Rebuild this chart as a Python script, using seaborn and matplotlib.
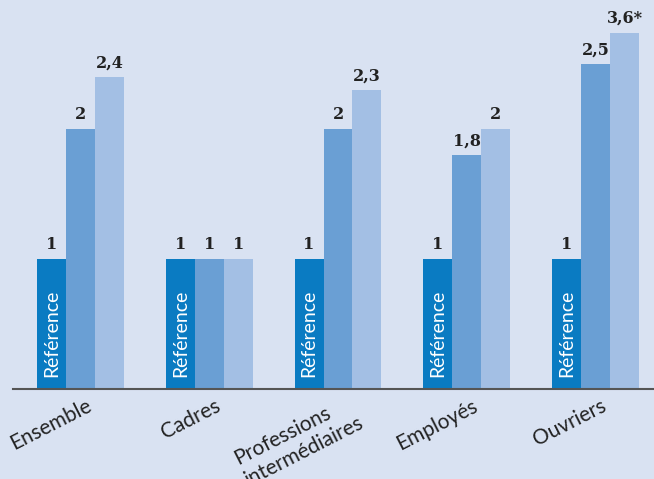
import matplotlib
matplotlib.use("Agg")
import matplotlib.pyplot as plt
import matplotlib.transforms as mtransforms
import pandas as pd
import seaborn as sns

categories = ["Ensemble", "Cadres", "Professions\nintermédiaires", "Employés", "Ouvriers"]
series = ["s1", "s2", "s3"]
# bar heights as drawn (the 3,6* bar is drawn shortened)
heights = {
    "s1": [1, 1, 1, 1, 1],
    "s2": [2, 1, 2, 1.8, 2.5],
    "s3": [2.4, 1, 2.3, 2, 2.74],
}
value_labels = {
    "s1": ["1", "1", "1", "1", "1"],
    "s2": ["2", "1", "2", "1,8", "2,5"],
    "s3": ["2,4", "1", "2,3", "2", "3,6*"],
}

BG = "#d9e2f2"
palette = {"s1": "#0a7bc2", "s2": "#6a9fd4", "s3": "#a3bfe4"}

rows = []
for s in series:
    for c, h in zip(categories, heights[s]):
        rows.append({"cat": c, "serie": s, "val": h})
df = pd.DataFrame(rows)

sns.set_style("white")
plt.rcParams["font.family"] = ["Lato", "DejaVu Sans"]

fig = plt.figure(figsize=(6.54, 4.79), dpi=100, facecolor=BG)
ax = fig.add_axes([13 / 654, 1 - 389 / 479, 1 - 13 / 654, 389 / 479])
ax.set_facecolor(BG)

sns.barplot(data=df, x="cat", y="val", hue="serie", hue_order=series,
            order=categories, palette=palette, width=0.675, gap=0,
            saturation=1, edgecolor="none", linewidth=0, legend=False, ax=ax)

for s, cont in zip(series, ax.containers):
    ax.bar_label(cont, labels=value_labels[s], padding=4, fontsize=11.5,
                 fontweight="bold", family="DejaVu Serif", color="#222222")

# "Référence" inside first-series bars
for bar in ax.containers[0]:
    ax.text(bar.get_x() + bar.get_width() / 2, 0.09, "Référence", rotation=90,
            ha="center", va="bottom", color="white", fontsize=14)

ax.set_xlim(-0.524, 4.454)
ax.set_ylim(0, 2.99)
ax.set_yticks([])
ax.set_xlabel("")
ax.set_ylabel("")
ax.tick_params(axis="x", length=0, pad=2)
ax.set_xticks(range(len(categories)))
ax.set_xticklabels(categories, rotation=27, ha="right", rotation_mode="anchor",
                   fontsize=15, color="#222222", linespacing=1.2)
for lab in ax.get_xticklabels():
    dx, dy = (5, -4)
    if "\n" in lab.get_text():
        dx, dy = (9, 0)  # two-line label sits a bit higher
    off = mtransforms.ScaledTranslation(dx / 100, dy / 100, fig.dpi_scale_trans)
    lab.set_transform(lab.get_transform() + off)
    lab.set_multialignment("left")

for side in ["top", "right", "left"]:
    ax.spines[side].set_visible(False)
ax.spines["bottom"].set_color("#555555")
ax.spines["bottom"].set_linewidth(1.5)

fig.savefig("out.png", dpi=100, facecolor=BG)
